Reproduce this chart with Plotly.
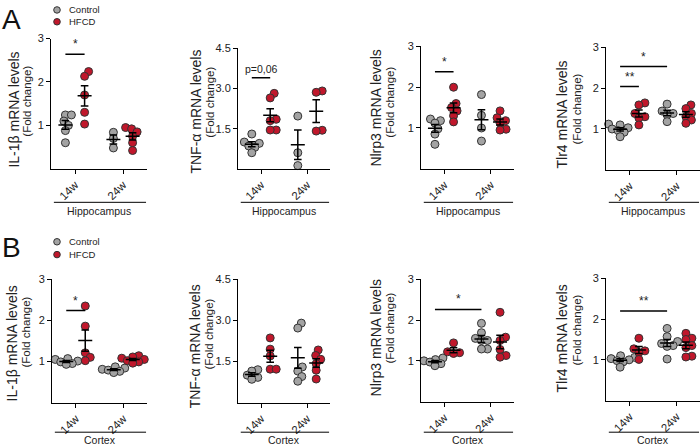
import numpy as np
import plotly.graph_objects as go

W, H = 700, 446

# ---------------- data ----------------
categories = ["14w", "24w"]
group_names = ["Control", "HFCD"]
region_labels = ["Hippocampus", "Cortex"]
y_titles = ["IL-1β mRNA levels", "TNF-α mRNA levels", "Nlrp3 mRNA levels", "Tlr4 mRNA levels"]
y_sub = "(Fold change)"

# Hippocampus
il1b_hip_ctrl_14w = [1.24, 1.24, 1.10, 1.00, 0.88, 0.60]
il1b_hip_hfcd_14w = [2.24, 2.13, 1.70, 1.30, 1.03]
il1b_hip_ctrl_24w = [0.84, 0.70, 0.48]
il1b_hip_hfcd_24w = [0.95, 0.92, 0.85, 0.75, 0.60, 0.42]

tnf_hip_ctrl_14w = [1.30, 1.00, 0.95, 0.85, 0.80, 0.60]
tnf_hip_hfcd_14w = [2.82, 2.65, 1.85, 1.80, 1.45, 1.45]
tnf_hip_ctrl_24w = [1.97, 0.60, 0.12]
tnf_hip_hfcd_24w = [2.91, 2.86, 1.44, 1.41]

nlrp3_hip_ctrl_14w = [1.22, 1.18, 1.12, 0.98, 0.85, 0.60]
nlrp3_hip_hfcd_14w = [2.00, 1.60, 1.50, 1.42, 1.30, 1.15]
nlrp3_hip_ctrl_24w = [1.82, 1.31, 1.00, 0.68]
nlrp3_hip_hfcd_24w = [1.42, 1.25, 1.18, 1.12, 0.97, 0.95]

tlr4_hip_ctrl_14w = [1.12, 1.10, 1.03, 1.00, 0.96, 0.92, 0.81]
tlr4_hip_hfcd_14w = [1.64, 1.59, 1.38, 1.30, 1.27, 1.10]
tlr4_hip_ctrl_24w = [1.61, 1.44, 1.38, 1.35, 1.18]
tlr4_hip_hfcd_24w = [1.59, 1.50, 1.38, 1.30, 1.22, 1.14]

# Cortex
il1b_ctx_ctrl_14w = [1.07, 1.05, 1.01, 0.99, 0.95, 0.93]
il1b_ctx_hfcd_14w = [2.35, 1.86, 1.21, 1.10, 1.02]
il1b_ctx_ctrl_24w = [0.87, 0.84, 0.81, 0.79, 0.76, 0.73]
il1b_ctx_hfcd_24w = [1.14, 1.11, 1.08, 1.05, 1.02, 0.99, 0.96]

tnf_ctx_ctrl_14w = [1.20, 1.15, 1.00, 0.92, 0.85]
tnf_ctx_hfcd_14w = [2.36, 1.95, 1.70, 1.22, 1.22]
tnf_ctx_ctrl_24w = [2.90, 2.72, 1.30, 1.15, 0.95, 0.78]
tnf_ctx_hfcd_24w = [1.92, 1.72, 1.58, 1.42, 1.18, 0.86]

nlrp3_ctx_ctrl_14w = [1.07, 1.03, 1.00, 0.97, 0.93, 0.88]
nlrp3_ctx_hfcd_14w = [1.44, 1.22, 1.20, 1.18]
nlrp3_ctx_ctrl_24w = [1.92, 1.69, 1.55, 1.50, 1.50, 1.29, 1.29]
nlrp3_ctx_hfcd_24w = [2.19, 1.58, 1.50, 1.28, 1.13, 1.09]

tlr4_ctx_ctrl_14w = [1.10, 1.06, 1.03, 1.00, 0.98, 0.95, 0.82]
tlr4_ctx_hfcd_14w = [1.53, 1.27, 1.22, 1.18, 1.01]
tlr4_ctx_ctrl_24w = [1.77, 1.57, 1.45, 1.40, 1.35, 1.33, 1.02]
tlr4_ctx_hfcd_24w = [1.65, 1.53, 1.50, 1.35, 1.30, 1.09, 1.07]

y_max = [3, 4.5, 3, 3]
y_ticks = [[1, 2, 3], [1.5, 3.0, 4.5], [1, 2, 3], [1, 2, 3]]
y_ticktext = [["1", "2", "3"], ["1.5", "3.0", "4.5"], ["1", "2", "3"], ["1", "2", "3"]]

# significance: (panel, x_from, x_to, y, label)   x as category index +/- dodge
significance = [
    (0, -0.2, 0.2, 2.64, "*"),
    (1, -0.2, 0.2, 3.40, "p=0,06"),
    (2, -0.2, 0.2, 2.38, "*"),
    (3, -0.2, 0.2, 2.04, "**"),
    (3, -0.2, 0.8, 2.53, "*"),
    (4, -0.2, 0.2, 2.24, "*"),
    (6, -0.2, 0.8, 2.26, "*"),
    (7, -0.2, 0.8, 2.20, "**"),
]

panels = [
    [[il1b_hip_ctrl_14w, il1b_hip_ctrl_24w], [il1b_hip_hfcd_14w, il1b_hip_hfcd_24w]],
    [[tnf_hip_ctrl_14w, tnf_hip_ctrl_24w], [tnf_hip_hfcd_14w, tnf_hip_hfcd_24w]],
    [[nlrp3_hip_ctrl_14w, nlrp3_hip_ctrl_24w], [nlrp3_hip_hfcd_14w, nlrp3_hip_hfcd_24w]],
    [[tlr4_hip_ctrl_14w, tlr4_hip_ctrl_24w], [tlr4_hip_hfcd_14w, tlr4_hip_hfcd_24w]],
    [[il1b_ctx_ctrl_14w, il1b_ctx_ctrl_24w], [il1b_ctx_hfcd_14w, il1b_ctx_hfcd_24w]],
    [[tnf_ctx_ctrl_14w, tnf_ctx_ctrl_24w], [tnf_ctx_hfcd_14w, tnf_ctx_hfcd_24w]],
    [[nlrp3_ctx_ctrl_14w, nlrp3_ctx_ctrl_24w], [nlrp3_ctx_hfcd_14w, nlrp3_ctx_hfcd_24w]],
    [[tlr4_ctx_ctrl_14w, tlr4_ctx_ctrl_24w], [tlr4_ctx_hfcd_14w, tlr4_ctx_hfcd_24w]],
]

# ---------------- layout geometry (pixels) ----------------
boxes = [(51, 147, 33, 165), (238, 330, 43, 165), (421, 514, 41, 165), (606, 700, 42, 166),
         (52, 147, 277, 402), (238, 330, 277, 402), (421, 514, 277, 401), (606, 700, 276, 400)]
title_pos = [((14, 105), (27, 97)), ((196, 107), (210, 98)), ((376, 104), (390, 98)), ((562, 110), (577, 105)),
             ((12, 342), (26, 331)), ((195, 345), (209, 333)), ((376, 337), (390, 327)), ((562, 337), (577, 329))]
region_line_y = [199, 432]
region_text_y = [208, 440]

FONT = "Liberation Sans, Arial, Helvetica, sans-serif"
fills = ["#a3a3a3", "#c0172b"]
edge = "#333333"
dodge = [-0.2, 0.2]
DIAM = 8.0


def swarm(vals, sx, sy, diam=6.0):
    vals = np.asarray(vals, dtype=float)
    order = np.argsort(vals)
    placed = []
    offs = np.zeros(len(vals))
    cands = [0.0] + [s * k * 0.5 for k in range(1, 80) for s in (1, -1)]
    for idx in order:
        ypx = vals[idx] * sy
        for c in cands:
            if all((c - px) ** 2 + (ypx - py) ** 2 >= diam ** 2 for px, py in placed):
                offs[idx] = c
                placed.append((c, ypx))
                break
    return offs / sx


def px2paper(x, y):
    return x / W, 1 - y / H


fig = go.Figure()
layout = dict(width=W, height=H, margin=dict(l=0, r=0, t=0, b=0),
              paper_bgcolor="white", plot_bgcolor="white", showlegend=False,
              font=dict(family=FONT, color="#222"))
shapes, annotations = [], []

for i, pdata in enumerate(panels):
    x0, x1, ytop, ybot = boxes[i]
    col = i % 4
    row = i // 4
    sfx = "" if i == 0 else str(i + 1)
    xa, ya = "x" + sfx, "y" + sfx
    sx = (x1 - x0) / 2.0
    sy = (ybot - ytop) / y_max[col]
    layout["xaxis" + sfx] = dict(domain=[x0 / W, x1 / W], anchor=ya, range=[-0.5, 1.5],
                                 tickvals=[0, 1], ticktext=categories, tickangle=-45,
                                 showline=True, linecolor="black", linewidth=1,
                                 ticks="outside", ticklen=4, tickcolor="black",
                                 showgrid=False, zeroline=False, fixedrange=True,
                                 tickfont=dict(size=11.5, family=FONT, color="#222"))
    layout["yaxis" + sfx] = dict(domain=[1 - ybot / H, 1 - ytop / H], anchor=xa,
                                 range=[0, y_max[col]], tickvals=y_ticks[col], ticktext=y_ticktext[col],
                                 showline=True, linecolor="black", linewidth=1,
                                 ticks="outside", ticklen=4, tickcolor="black",
                                 showgrid=False, zeroline=False, fixedrange=True,
                                 tickfont=dict(size=11, family=FONT, color="#222"))
    for g in range(2):
        for c in range(2):
            vals = pdata[g][c]
            center = c + dodge[g]
            xs = center + swarm(vals, sx, sy)
            fig.add_trace(go.Scatter(x=xs, y=vals, mode="markers", xaxis=xa, yaxis=ya,
                                     cliponaxis=False, hoverinfo="y",
                                     marker=dict(size=DIAM, color=fills[g],
                                                 line=dict(color=edge, width=1))))
    for g in range(2):
        for c in range(2):
            vals = np.asarray(pdata[g][c], dtype=float)
            m = vals.mean()
            se = vals.std(ddof=1) / np.sqrt(len(vals))
            center = c + dodge[g]
            hw, cw = 7.0 / sx, 3.8 / sx
            lx = [center - hw, center + hw, None, center, center, None,
                  center - cw, center + cw, None, center - cw, center + cw]
            ly = [m, m, None, m - se, m + se, None, m + se, m + se, None, m - se, m - se]
            fig.add_trace(go.Scatter(x=lx, y=ly, mode="lines", xaxis=xa, yaxis=ya,
                                     cliponaxis=False, hoverinfo="skip",
                                     line=dict(color="black", width=1.5)))
    # y titles
    (t1x, t1y), (t2x, t2y) = title_pos[i]
    px_, py_ = px2paper(t1x, t1y)
    annotations.append(dict(x=px_, y=py_, xref="paper", yref="paper", text=y_titles[col],
                            textangle=-90, showarrow=False, font=dict(size=14, family=FONT, color="#222"),
                            xanchor="center", yanchor="middle"))
    px_, py_ = px2paper(t2x, t2y)
    annotations.append(dict(x=px_, y=py_, xref="paper", yref="paper", text=y_sub,
                            textangle=-90, showarrow=False, font=dict(size=11.5, family=FONT, color="#222"),
                            xanchor="center", yanchor="middle"))
    # region bracket
    ly_ = 1 - region_line_y[row] / H
    shapes.append(dict(type="line", xref=xa + " domain", yref="paper", x0=0.03, x1=0.99,
                       y0=ly_, y1=ly_, line=dict(color="black", width=1)))
    annotations.append(dict(x=0.5, y=1 - region_text_y[row] / H, xref=xa + " domain", yref="paper",
                            text=region_labels[row], showarrow=False,
                            font=dict(size=10.5, family=FONT, color="#222"),
                            xanchor="center", yanchor="middle"))

for (p, xf, xt, yv, lab) in significance:
    sfx = "" if p == 0 else str(p + 1)
    xa, ya = "x" + sfx, "y" + sfx
    shapes.append(dict(type="line", xref=xa, yref=ya, x0=xf, x1=xt, y0=yv, y1=yv,
                       line=dict(color="black", width=1.5)))
    annotations.append(dict(x=(xf + xt) / 2, y=yv, xref=xa, yref=ya, text=lab, showarrow=False,
                            xanchor="center", yanchor="bottom", yshift=1,
                            font=dict(size=12 if "*" in lab else 10.5, family=FONT, color="#222")))

# panel letters and legends
for letter, (lx, lyy) in zip(["A", "B"], [(11, 14), (11, 245)]):
    px_, py_ = px2paper(lx, lyy)
    annotations.append(dict(x=px_, y=py_, xref="paper", yref="paper", text=letter, showarrow=False,
                            font=dict(size=28, family=FONT, color="#111"),
                            xanchor="center", yanchor="middle"))

legend_rows = [(4, 16), (239, 252)]
for (yc, yh) in legend_rows:
    for g, yy in enumerate([yc, yh]):
        shapes.append(dict(type="circle", xref="paper", yref="paper",
                           x0=(57 - 3.3) / W, x1=(57 + 3.3) / W,
                           y0=1 - (yy + 3.3) / H, y1=1 - (yy - 3.3) / H,
                           fillcolor=fills[g], line=dict(color=edge, width=1)))
        annotations.append(dict(x=67 / W, y=1 - yy / H, xref="paper", yref="paper",
                                text=group_names[g], showarrow=False,
                                font=dict(size=9.5, family=FONT, color="#222"),
                                xanchor="left", yanchor="middle"))

layout["shapes"] = shapes
layout["annotations"] = annotations
fig.update_layout(**layout)
fig.write_html("out.html", config={"displayModeBar": False, "staticPlot": True},
               post_script="document.body.style.margin='0';document.body.style.padding='0';document.body.style.overflow='hidden';")
